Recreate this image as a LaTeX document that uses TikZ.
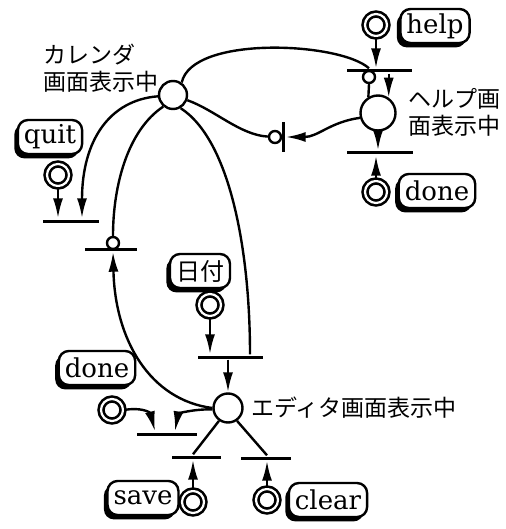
\documentclass[tikz,border=0pt]{standalone}
\usepackage{fontspec}
\setmainfont{DejaVu Serif}
\newfontfamily\jp{Noto Sans CJK JP}
\usetikzlibrary{arrows.meta,shadows}
\tikzset{
	every place/.style={
		circle,
		draw,
		fill=white,
		inner sep=0pt },
	token/.style={
		circle,
		draw,
		double,
		double distance=1.1pt,
		line width=1.3pt,
		minimum size=11pt,
		inner sep=0pt },
	event/.style={
		draw,
		fill=white,
		rounded corners=5pt,
		inner xsep=3pt,
		inner ysep=1pt,
		minimum height=17pt,
		font=\fontsize{13}{13}\selectfont,
		drop shadow={fill=black, opacity=1, shadow xshift=-1.8pt, shadow yshift=-2.2pt} },
	bar/.style={
		fill,
		inner sep=0pt,
		minimum height=1.5pt },
	inhibit/.style={
		circle,
		draw,
		fill=white,
		minimum size=6pt,
		inner sep=0pt },
	label jp/.style={
		font=\jp\fontsize{11.5}{13.5}\selectfont,
		align=left,
		inner sep=0pt },
}

\begin{document}
\begin{tikzpicture}[x=0.5pt, y=-0.5pt, line width=1.2pt, >={Latex[length=10pt,width=5pt]}]
		\useasboundingbox (0,0) rectangle (506,529);

		% places
		\node [every place, minimum size=14pt] (cal) at (173,95) {};
		\node [every place, minimum size=17.5pt] (helpP) at (378,113) {};
		\node [every place, minimum size=14.5pt] (ed) at (228,408) {};

		\node [label jp, anchor=east] (cal-l) at (160,68) {カレンダ\\画面表示中};
		\node [label jp, anchor=west] (helpP-l) at (407,112) {ヘルプ画\\面表示中};
		\node [label jp, anchor=west] (ed-l) at (250,408) {エディタ画面表示中};

		% transitions
		\node [bar, minimum width=32.5pt] (helpT) at (379,71) {};
		\node [bar, minimum width=33pt] (doneT) at (380,153) {};
		\node [bar, minimum width=1.5pt, minimum height=15pt] (backT) at (283,137) {};
		\node [bar, minimum width=28pt] (quitT) at (71,221) {};
		\node [bar, minimum width=26pt] (retT) at (111,249) {};
		\node [bar, minimum width=32.5pt] (dateT) at (230,357) {};
		\node [bar, minimum width=30pt] (closeT) at (167,434) {};
		\node [bar, minimum width=24.5pt] (saveT) at (196,457) {};
		\node [bar, minimum width=25pt] (clearT) at (266,458) {};

		\node [inhibit] (helpInh) at (369,77) {};
		\node [inhibit] (backInh) at (275,137) {};
		\node [inhibit] (retInh) at (113,243) {};

		% input tokens and their events
		\foreach \n/\tx/\ty/\bx/\by/\t in {help/376/25/435/26/help, hdone/376/192/437/191/done,
			quit/58/175/50/137/quit, date/210/305/200/271/{\jp\fontsize{12}{12}\selectfont 日付},
			edone/112/410/97/368/done, save/193/502/143/498/save, clear/267/500/328/500/clear}
		{
		\node [token] (\n-tok) at (\tx,\ty) {};
		\node [event] (\n-ev) at (\bx,\by) {\t};
		}

		\draw [->] (help-tok) -- (help-tok |- helpT.north);
		\draw (cal.55) .. controls (192,35) and (340,42) .. (helpInh |- helpT.north);
		\draw (helpInh.south) -- (helpP.121);
		\draw [->] (helpP.55 |- helpT.south) -- (helpP.55);
		\draw [->] (helpP) -- (helpP |- doneT.north);
		\draw [->] (hdone-tok) -- (hdone-tok |- doneT.south);
		\draw [->] (helpP.195) .. controls (330,122) and (318,137) .. (backT.east);
		\draw (cal.-20) .. controls (215,110) and (240,135) .. (backInh);

		\draw [->] (cal.185) .. controls (110,100) and (82,140) .. ([xshift=5.5pt]quitT.north);
		\draw [->] (quit-tok) -- (quit-tok |- quitT.north);
		\draw (cal.230) .. controls (128,130) and (113,185) .. (retInh);
		\draw [->] (ed.180) .. controls (150,400) and (115,340) .. (retInh |- retT.south);
		\draw (cal.-60) .. controls (230,140) and (250,250) .. ([xshift=10pt]dateT.north);

		\draw [->] (date-tok) -- (date-tok |- dateT.north);
		\draw [->] (ed |- dateT.south) -- (ed);
		\draw [->] (edone-tok.east) .. controls (140,407) and (150,412) .. ([xshift=-6pt]closeT.north);
		\draw [->] (ed.185) .. controls (192,409) and (178,414) .. ([xshift=4pt]closeT.north);
		\draw (ed.235) -- (save-tok |- saveT.north);
		\draw [->] (save-tok) -- (save-tok |- saveT.south);
		\draw (ed.-55) -- (clear-tok |- clearT.north);
		\draw [->] (clear-tok) -- (clear-tok |- clearT.south);
	\end{tikzpicture}
\end{document}
